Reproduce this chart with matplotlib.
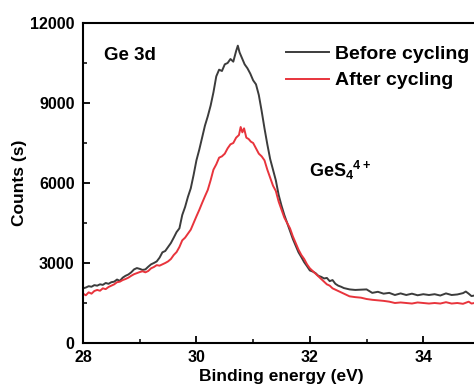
import matplotlib
matplotlib.use("Agg")
import matplotlib.pyplot as plt
from matplotlib.ticker import MultipleLocator

plt.rcParams['font.family'] = ['Liberation Sans', 'DejaVu Sans']
plt.rcParams['font.weight'] = 'bold'
plt.rcParams['mathtext.fontset'] = 'custom'
plt.rcParams['mathtext.bf'] = 'Liberation Sans:bold'

# Ge 3d spectrum before cycling
energy_before = [
    28.00, 28.05, 28.10, 28.15, 28.20, 28.25, 28.30, 28.35, 28.40, 28.45,
    28.50, 28.55, 28.60, 28.65, 28.70, 28.75, 28.80, 28.85, 28.90, 28.95,
    29.00, 29.05, 29.10, 29.15, 29.20, 29.25, 29.30, 29.35, 29.40, 29.45,
    29.50, 29.55, 29.60, 29.65, 29.70, 29.75, 29.80, 29.85, 29.90, 29.95,
    30.00, 30.05, 30.10, 30.15, 30.20, 30.25, 30.30, 30.35, 30.40, 30.45,
    30.50, 30.55, 30.60, 30.65, 30.70, 30.73, 30.76, 30.80, 30.85, 30.90,
    30.95, 31.00, 31.05, 31.10, 31.15, 31.20, 31.25, 31.30, 31.35, 31.40,
    31.45, 31.50, 31.55, 31.60, 31.65, 31.70, 31.75, 31.80, 31.85, 31.90,
    31.95, 32.00, 32.05, 32.10, 32.15, 32.20, 32.25, 32.30, 32.35, 32.40,
    32.45, 32.50, 32.55, 32.60, 32.70, 32.80, 32.90, 33.00, 33.10, 33.20,
    33.30, 33.40, 33.50, 33.60, 33.70, 33.80, 33.90, 34.00, 34.10, 34.20,
    34.30, 34.40, 34.50, 34.60, 34.70, 34.75, 34.80, 34.85, 34.90, 35.00,
]
counts_before = [
    2050, 2080, 2130, 2110, 2170, 2150, 2200, 2180, 2250, 2220,
    2280, 2300, 2380, 2330, 2450, 2520, 2570, 2650, 2760, 2810,
    2780, 2740, 2760, 2860, 2950, 3000, 3060, 3200, 3400, 3450,
    3600, 3750, 3950, 4160, 4300, 4800, 5100, 5480, 5800, 6300,
    6850, 7250, 7700, 8150, 8500, 8900, 9400, 10000, 10250, 10200,
    10450, 10500, 10650, 10550, 10950, 11150, 10900, 10700, 10450, 10300,
    10100, 9850, 9700, 9300, 8700, 8050, 7450, 6900, 6500, 6100,
    5550, 5150, 4800, 4500, 4200, 3900, 3650, 3400, 3220, 3030,
    2880, 2720, 2680, 2620, 2520, 2480, 2420, 2440, 2320, 2360,
    2220, 2150, 2110, 2060, 2010, 1990, 2000, 2010, 1880, 1920,
    1850, 1880, 1800, 1860, 1800, 1850, 1790, 1830, 1800, 1830,
    1780, 1860, 1800, 1820, 1870, 1930, 1850, 1760, 1780, 1800,
]

# Ge 3d spectrum after cycling
energy_after = [
    28.00, 28.05, 28.10, 28.15, 28.20, 28.25, 28.30, 28.35, 28.40, 28.45,
    28.50, 28.55, 28.60, 28.65, 28.70, 28.75, 28.80, 28.85, 28.90, 28.95,
    29.00, 29.05, 29.10, 29.15, 29.20, 29.25, 29.30, 29.35, 29.40, 29.45,
    29.50, 29.55, 29.60, 29.65, 29.70, 29.75, 29.80, 29.85, 29.90, 29.95,
    30.00, 30.05, 30.10, 30.15, 30.20, 30.25, 30.30, 30.35, 30.40, 30.45,
    30.50, 30.55, 30.60, 30.65, 30.70, 30.75, 30.78, 30.81, 30.84, 30.88,
    30.92, 30.96, 31.00, 31.05, 31.10, 31.15, 31.20, 31.25, 31.30, 31.35,
    31.40, 31.45, 31.50, 31.55, 31.60, 31.65, 31.70, 31.75, 31.80, 31.85,
    31.90, 31.95, 32.00, 32.05, 32.10, 32.15, 32.20, 32.25, 32.30, 32.35,
    32.40, 32.45, 32.50, 32.60, 32.70, 32.80, 32.90, 33.00, 33.10, 33.20,
    33.30, 33.40, 33.50, 33.60, 33.70, 33.80, 33.90, 34.00, 34.10, 34.20,
    34.30, 34.40, 34.50, 34.60, 34.70, 34.80, 34.85, 34.90, 35.00,
]
counts_after = [
    1850, 1790, 1900, 1850, 1950, 1990, 1960, 2050, 2020, 2100,
    2150, 2200, 2280, 2300, 2360, 2400, 2450, 2520, 2580, 2620,
    2660, 2690, 2650, 2700, 2800, 2850, 2920, 2900, 2950, 3000,
    3060, 3150, 3300, 3410, 3600, 3850, 3950, 4100, 4250, 4500,
    4750, 4990, 5250, 5500, 5740, 6100, 6500, 6700, 6950, 7000,
    7100, 7300, 7450, 7500, 7700, 7800, 8100, 7900, 8050, 7700,
    7650, 7550, 7500, 7300, 7100, 7000, 6850, 6500, 6200, 5900,
    5700, 5300, 5000, 4700, 4500, 4300, 4000, 3750, 3500, 3300,
    3150, 2950, 2800, 2700, 2600, 2500, 2400, 2300, 2200, 2150,
    2050, 2000, 1950, 1850, 1750, 1720, 1700, 1650, 1620, 1600,
    1580, 1550, 1500, 1520, 1500, 1480, 1520, 1500, 1480, 1500,
    1480, 1530, 1480, 1500, 1470, 1550, 1480, 1500, 1520,
]

x_major = [28, 30, 32, 34]
y_major = [0, 3000, 6000, 9000, 12000]

fig = plt.figure(figsize=(4.74, 3.90), dpi=100)
# the original figure is cut at the right edge, so the axes run past it
ax = fig.add_axes([83 / 474, 47 / 390, 397 / 474, 320 / 390])

ax.plot(energy_before, counts_before, color="#3c3c3c", lw=1.4, label="Before cycling")
ax.plot(energy_after, counts_after, color="#e8343c", lw=1.4, label="After cycling")

ax.set_xlim(28, 35)
ax.set_ylim(0, 12000)
ax.set_xticks(x_major)
ax.set_yticks(y_major)
ax.xaxis.set_minor_locator(MultipleLocator(1))
ax.yaxis.set_minor_locator(MultipleLocator(1500))
ax.tick_params(which="major", direction="in", length=5, width=1.3, labelsize=11.5)
ax.tick_params(axis="x", which="major", pad=5)
ax.tick_params(axis="y", which="major", pad=6)
ax.tick_params(which="minor", direction="in", length=3, width=1.1)
for lbl in ax.get_xticklabels() + ax.get_yticklabels():
    lbl.set_fontweight("bold")
for side in ["left", "bottom", "top"]:
    ax.spines[side].set_linewidth(1.5)
ax.spines["right"].set_visible(False)

ax.set_xlabel("Binding energy (eV)", fontsize=12.5, fontweight="bold", labelpad=3)
ax.set_ylabel("Counts (s)", fontsize=12.5, fontweight="bold", labelpad=2)

ax.text(0.053, 0.9, "Ge 3d", transform=ax.transAxes, fontsize=13.5, fontweight="bold", va="center")
ax.text(0.57, 0.54, r"GeS$_\mathbf{4}$$^\mathbf{4+}$", transform=ax.transAxes, fontsize=13,
        fontweight="bold", va="center")

ax.legend(loc="upper left", bbox_to_anchor=(0.512, 0.93), frameon=False, fontsize=14,
          handlelength=2.2, handletextpad=0.3, labelspacing=0.45, borderaxespad=0, borderpad=0)

fig.savefig("out.png", dpi=100)
